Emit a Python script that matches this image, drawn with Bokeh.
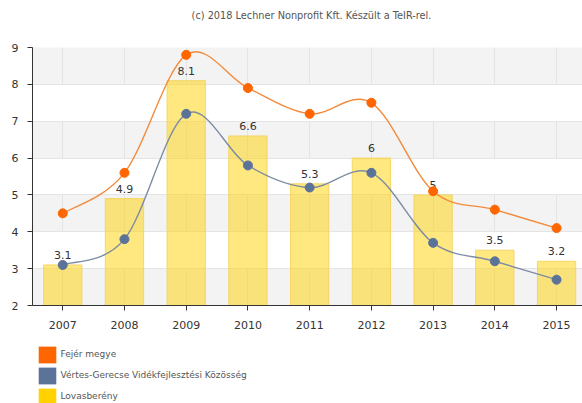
from bokeh.plotting import figure
from bokeh.layouts import column
from bokeh.models import (Range1d, FixedTicker, SingleIntervalTicker, Legend, LegendItem,
                          ColumnDataSource, Label)
from bokeh.core.properties import value
from bokeh.embed import file_html
from bokeh.resources import INLINE

years = ["2007", "2008", "2009", "2010", "2011", "2012", "2013", "2014", "2015"]
fejer = [4.5, 5.6, 8.8, 7.9, 7.2, 7.5, 5.1, 4.6, 4.1]
vertes = [3.1, 3.8, 7.2, 5.8, 5.2, 5.6, 3.7, 3.2, 2.7]
lovas = [3.1, 4.9, 8.1, 6.6, 5.3, 6.0, 5.0, 3.5, 3.2]
series_names = ["Fejér megye", "Vértes-Gerecse Vidékfejlesztési Közösség", "Lovasberény"]
title_text = "(c) 2018 Lechner Nonprofit Kft. Készült a TeIR-rel."

FONT = "DejaVu Sans"
ORANGE = "#FF6600"
ORANGE_LINE = "#F28A3C"
BLUE = "#5B7399"
BLUE_LINE = "#7D8CA3"
YELLOW = "#FFD200"

xs = list(range(len(years)))
NAN = float("nan")


def strip(h):
    f = figure(width=582, height=h, output_backend="svg", toolbar_location=None,
               min_border=0, x_axis_type=None, y_axis_type=None,
               x_range=Range1d(0, 1), y_range=Range1d(0, 1))
    f.grid.visible = False
    f.outline_line_color = None
    f.border_fill_color = "white"
    f.background_fill_color = "white"
    return f


# title strip (its frame is aligned with the chart frame, which starts 32px in)
tt = strip(37)
tt.add_layout(Label(x=279, y=22, x_units="screen", y_units="screen", text=title_text,
                    text_align="center", text_baseline="middle", text_font=FONT,
                    text_font_size="9.75px", text_color="#555555"))

# main chart
p = figure(width=582, height=303, output_backend="svg", toolbar_location=None,
           x_range=Range1d(-0.49, 8.42), y_range=Range1d(2, 9),
           min_border_left=32, min_border_right=0, min_border_top=10, min_border_bottom=35)
p.outline_line_color = None
p.background_fill_color = "#F3F3F3"
p.border_fill_color = "white"

p.xaxis.ticker = FixedTicker(ticks=xs)
p.xaxis.major_label_overrides = {i: y for i, y in enumerate(years)}
p.yaxis.ticker = SingleIntervalTicker(interval=1)
for ax in (p.xaxis[0], p.yaxis[0]):
    ax.axis_line_color = "#333333"
    ax.major_tick_line_color = "#333333"
    ax.major_tick_out = 5
    ax.major_tick_in = 0
    ax.minor_tick_line_color = None
    ax.major_label_text_font = FONT
    ax.major_label_text_font_size = "11px"
    ax.major_label_text_color = "#333333"
p.xaxis.major_label_standoff = 10
p.yaxis.major_label_standoff = 9

p.ygrid.grid_line_color = "#E4E4E4"
p.ygrid.band_fill_color = "white"
p.ygrid.band_fill_alpha = 1.0
p.xgrid.grid_line_color = "#E4E4E4"

p.vbar(x=xs, top=lovas, bottom=2, width=0.62, fill_color=YELLOW, fill_alpha=0.5,
       line_color="#F5D35C", line_alpha=0.9)
labels = [f"{v:g}" for v in lovas]
p.text(x=xs, y=lovas, text=labels, text_align="center", text_baseline="bottom",
       y_offset=-6, text_font=value(FONT), text_font_size="11px", text_color="#333333")


def bezier_src(vals):
    n = len(vals)
    x0, y0, x1, y1, cx0, cy0, cx1, cy1 = [], [], [], [], [], [], [], []
    for i in range(n - 1):
        im1 = max(i - 1, 0)
        ip2 = min(i + 2, n - 1)
        x0.append(xs[i]); y0.append(vals[i])
        x1.append(xs[i + 1]); y1.append(vals[i + 1])
        cx0.append(xs[i] + (xs[i + 1] - xs[im1]) / 6)
        cy0.append(vals[i] + (vals[i + 1] - vals[im1]) / 6)
        cx1.append(xs[i + 1] - (xs[ip2] - xs[i]) / 6)
        cy1.append(vals[i + 1] - (vals[ip2] - vals[i]) / 6)
    return ColumnDataSource(dict(x0=x0, y0=y0, x1=x1, y1=y1, cx0=cx0, cy0=cy0, cx1=cx1, cy1=cy1))


p.bezier(x0="x0", y0="y0", x1="x1", y1="y1", cx0="cx0", cy0="cy0", cx1="cx1", cy1="cy1",
         source=bezier_src(vertes), line_color=BLUE_LINE, line_width=1.4)
p.bezier(x0="x0", y0="y0", x1="x1", y1="y1", cx0="cx0", cy0="cy0", cx1="cx1", cy1="cy1",
         source=bezier_src(fejer), line_color=ORANGE_LINE, line_width=1.4)
p.scatter(xs, vertes, size=9, fill_color=BLUE, line_color=BLUE)
p.scatter(xs, fejer, size=9, fill_color=ORANGE, line_color=ORANGE)

# legend strip
lg = strip(63)
swatch_colors = [ORANGE, BLUE, YELLOW]
items = []
for name, col in zip(series_names, swatch_colors):
    r = lg.quad(left=[NAN], right=[NAN], top=[NAN], bottom=[NAN], fill_color=col, line_color=None)
    items.append(LegendItem(label=name, renderers=[r]))
legend = Legend(items=items, location=(3.5, -3.6), orientation="vertical",
                glyph_width=22, glyph_height=21, label_height=21, spacing=0,
                padding=0, margin=0, label_standoff=3,
                label_text_font=FONT, label_text_font_size="9px", label_text_color="#555555",
                background_fill_alpha=0, border_line_color=None)
lg.add_layout(legend, "center")

open("out.html", "w").write(file_html(column(tt, p, lg, spacing=0), INLINE))
